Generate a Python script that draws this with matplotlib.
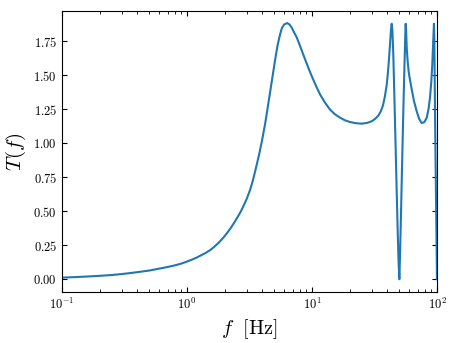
import matplotlib
matplotlib.use("Agg")
import matplotlib.pyplot as plt
from matplotlib.ticker import FixedLocator, FuncFormatter

# valores
freq = [0.1, 0.13, 0.16, 0.2, 0.25, 0.3, 0.35, 0.4, 0.5, 0.6, 0.7, 0.8, 0.9,
        1.0, 1.1, 1.2, 1.27, 1.4, 1.53, 1.65, 1.8, 1.95, 2.08, 2.25, 2.4,
        2.55, 2.7, 2.85, 3.0, 3.19, 3.35, 3.5, 3.65, 3.8, 4.0, 4.21, 4.4,
        4.61, 4.83, 5.06, 5.3, 5.55, 5.75, 6.0, 6.33, 6.6, 6.9, 7.2, 7.55,
        8.0, 8.5, 9.0, 9.5, 10, 10.8, 11.6, 12.7, 13.9, 15.2, 16.7, 18.3,
        20.1, 22.5, 25, 27.5, 30, 32, 34, 35.5, 37, 38.3, 39.6, 40.5, 41.3,
        42.1, 42.8, 43.4, 44.0, 44.7, 45.6, 46.7, 47.6, 48.5, 49.3, 50, 50.7,
        51.5, 52.6, 53.7, 54.6, 55.5, 55.9, 56.2, 56.7, 57.3, 58.3, 59.5, 61,
        62.7, 65.5, 68.8, 72, 75.4, 79, 82.7, 85.5, 87.9, 90, 91.7, 93.3,
        94.6, 95.3, 96.5, 98.5, 100]
trans = [0.012, 0.016, 0.02, 0.025, 0.031, 0.038, 0.045, 0.052, 0.064, 0.078,
         0.09, 0.102, 0.115, 0.13, 0.145, 0.16, 0.172, 0.192, 0.214, 0.238,
         0.27, 0.305, 0.337, 0.38, 0.42, 0.46, 0.50, 0.545, 0.59, 0.655, 0.72,
         0.79, 0.86, 0.93, 1.03, 1.14, 1.25, 1.37, 1.49, 1.61, 1.72, 1.80,
         1.85, 1.875, 1.885, 1.875, 1.85, 1.815, 1.78, 1.72, 1.655, 1.595,
         1.54, 1.49, 1.42, 1.36, 1.30, 1.25, 1.215, 1.19, 1.17, 1.157, 1.148,
         1.145, 1.15, 1.162, 1.18, 1.205, 1.235, 1.28, 1.345, 1.43, 1.52,
         1.62, 1.73, 1.83, 1.88, 1.83, 1.66, 1.35, 0.965, 0.65, 0.35, 0.12,
         0.0, 0.2, 0.47, 0.85, 1.21, 1.48, 1.72, 1.83, 1.88, 1.82, 1.70, 1.60,
         1.52, 1.46, 1.40, 1.31, 1.236, 1.18, 1.15, 1.155, 1.187, 1.25, 1.335,
         1.45, 1.58, 1.75, 1.88, 1.75, 1.2, 0.5, 0.0]
yticks = [0.0, 0.25, 0.5, 0.75, 1.0, 1.25, 1.5, 1.75]

plt.rcParams['font.family'] = 'serif'
plt.rcParams['font.serif'] = ['cmr10']
plt.rcParams['mathtext.fontset'] = 'cm'
plt.rcParams['axes.formatter.use_mathtext'] = True

fig = plt.figure(figsize=(4.57, 3.43), dpi=100)
ax = fig.add_axes([0.1357, 0.1487, 0.8205, 0.8193])

ax.plot(freq, trans, color='#1f77b4', lw=1.5)
ax.set_xscale('log')
ax.set_xlim(0.1, 100)
ax.set_ylim(-0.094, 1.974)

ax.yaxis.set_major_locator(FixedLocator(yticks))
ax.yaxis.set_major_formatter(FuncFormatter(lambda v, p: f"${v:.2f}$"))

ax.tick_params(which='both', direction='in', top=True, right=True, labelsize=9)

ax.set_xlabel(r'$f\ \ [\mathrm{Hz}]$', fontsize=14.5)
ax.set_ylabel(r'$T(f)$', fontsize=15)

fig.savefig('out.png', dpi=100)
